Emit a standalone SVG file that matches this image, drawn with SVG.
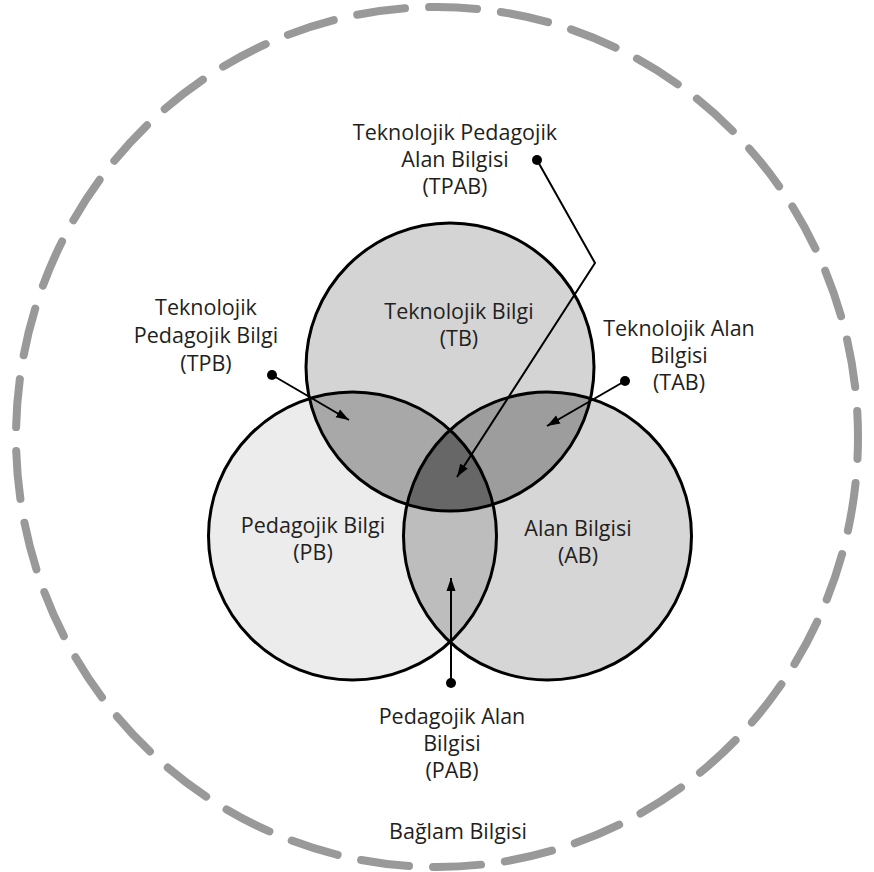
<svg xmlns="http://www.w3.org/2000/svg" width="874" height="872" viewBox="0 0 874 872">
<defs>
<style>
text{font-family:"Open Sans","Liberation Sans",sans-serif;font-size:21.5px;fill:#231f20;text-anchor:middle}
.ring{fill:none;stroke:#000;stroke-width:3}
.conn{fill:none;stroke:#000;stroke-width:2}
.dot{fill:#000}
</style>
<clipPath id="cT"><circle cx="450" cy="367" r="144"/></clipPath>
<clipPath id="cP"><circle cx="352.5" cy="536" r="144"/></clipPath>
<clipPath id="cA"><circle cx="547.5" cy="536" r="144"/></clipPath>
<marker id="ah" markerUnits="userSpaceOnUse" markerWidth="14" markerHeight="10" refX="13" refY="5" orient="auto" viewBox="0 0 14 10"><path d="M0,0.5 L13,5 L0,9.5 z" fill="#000"/></marker>
</defs>
<rect width="874" height="872" fill="#fff"/>

<g id="context">
<ellipse cx="437" cy="437" rx="421" ry="430" fill="none" stroke="#999" stroke-width="8" stroke-linecap="round" pathLength="2664" stroke-dasharray="48 24" stroke-dashoffset="26"/>
<text x="458" y="839">Bağlam Bilgisi</text>
</g>

<g id="PB">
<circle cx="352.5" cy="536" r="144" fill="#ececec"/>
</g>
<g id="AB">
<circle cx="547.5" cy="536" r="144" fill="#d6d6d6"/>
</g>
<g id="TB">
<circle cx="450" cy="367" r="144" fill="#d4d4d4"/>
</g>
<g id="TPB">
<circle cx="450" cy="367" r="144" fill="#a8a8a8" clip-path="url(#cP)"/>
</g>
<g id="TAB">
<circle cx="450" cy="367" r="144" fill="#9d9d9d" clip-path="url(#cA)"/>
</g>
<g id="PAB">
<circle cx="547.5" cy="536" r="144" fill="#bdbdbd" clip-path="url(#cP)"/>
</g>
<g id="TPAB">
<g clip-path="url(#cP)"><circle cx="450" cy="367" r="144" fill="#676767" clip-path="url(#cA)"/></g>
</g>

<g id="outlines">
<circle class="ring" cx="450" cy="367" r="144"/>
<circle class="ring" cx="352.5" cy="536" r="144"/>
<circle class="ring" cx="547.5" cy="536" r="144"/>
</g>

<g id="labels">
<text x="459" y="319">Teknolojik Bilgi</text>
<text x="459" y="346">(TB)</text>
<text x="313" y="533">Pedagojik Bilgi</text>
<text x="313" y="560">(PB)</text>
<text x="578" y="536">Alan Bilgisi</text>
<text x="578" y="563">(AB)</text>
<text x="455" y="140">Teknolojik Pedagojik</text>
<text x="455" y="167">Alan Bilgisi</text>
<text x="455" y="194">(TPAB)</text>
<text x="206" y="315">Teknolojik</text>
<text x="206" y="343">Pedagojik Bilgi</text>
<text x="206" y="371">(TPB)</text>
<text x="679" y="336">Teknolojik Alan</text>
<text x="679" y="363">Bilgisi</text>
<text x="679" y="390">(TAB)</text>
<text x="452" y="724">Pedagojik Alan</text>
<text x="452" y="751">Bilgisi</text>
<text x="452" y="778">(PAB)</text>
</g>

<g id="connectors">
<polyline class="conn" points="537,160 595,263 457,477" marker-end="url(#ah)"/>
<circle class="dot" cx="537" cy="160" r="5"/>
<line class="conn" x1="272" y1="375" x2="349" y2="420" marker-end="url(#ah)"/>
<circle class="dot" cx="272" cy="375" r="5"/>
<line class="conn" x1="625" y1="381" x2="547" y2="426" marker-end="url(#ah)"/>
<circle class="dot" cx="625" cy="381" r="5"/>
<line class="conn" x1="451" y1="683" x2="451" y2="578" marker-end="url(#ah)"/>
<circle class="dot" cx="451" cy="683" r="5"/>
</g>
</svg>
